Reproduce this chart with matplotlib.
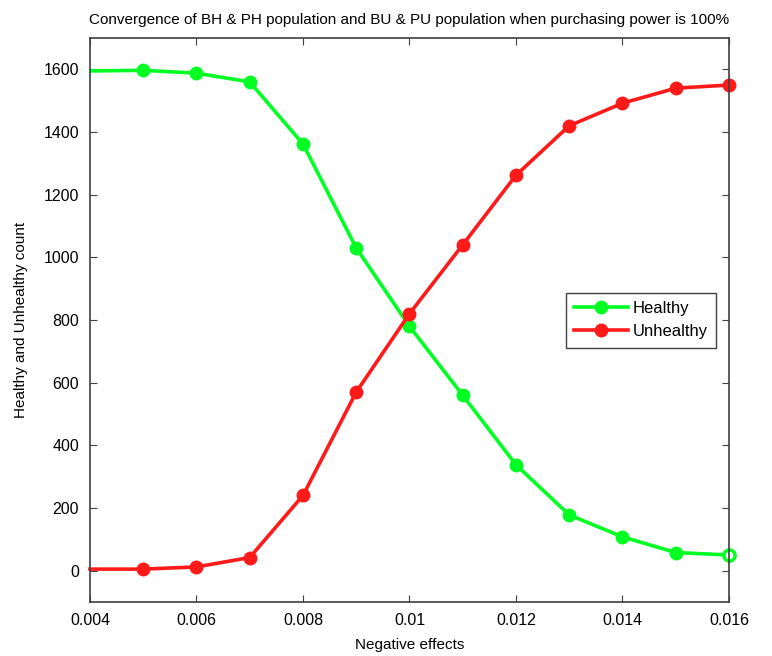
import numpy as np
import matplotlib.pyplot as plt

plt.rcParams['font.family'] = ['Liberation Sans', 'DejaVu Sans']

neg_effects = [0.004, 0.005, 0.006, 0.007, 0.008, 0.009, 0.010,
               0.011, 0.012, 0.013, 0.014, 0.015, 0.016]
healthy = [1595, 1597, 1588, 1560, 1362, 1030, 780, 560, 338, 178, 108, 58, 50]
unhealthy = [5, 5, 12, 42, 240, 570, 820, 1040, 1262, 1420, 1492, 1540, 1550]

fig = plt.figure(figsize=(7.72, 6.56), dpi=100)
ax = fig.add_axes([0.1166, 0.0823, 0.8276, 0.8597])

green = '#00ff22'
red = '#ff1a1a'

ax.plot(neg_effects, healthy, '-o', color=green, lw=2.6, ms=9,
        markevery=slice(1, 12), label='Healthy', clip_on=True)
ax.plot(neg_effects[-1:], healthy[-1:], 'o', color=green, mfc='white',
        mew=2.5, ms=8, clip_on=False)
ax.plot(neg_effects, unhealthy, '-o', color=red, lw=2.6, ms=9,
        markevery=slice(1, 13), label='Unhealthy', clip_on=False)

ax.set_xlim(0.004, 0.016)
ax.set_ylim(-100, 1700)
ax.set_xticks(np.arange(0.004, 0.0161, 0.002))
ax.set_xticklabels(['0.004', '0.006', '0.008', '0.01', '0.012', '0.014', '0.016'])
ax.set_yticks(np.arange(0, 1601, 200))

ax.tick_params(direction='in', top=True, right=True, length=5, labelsize=11.5,
               color='#404040', pad=8)
for s in ax.spines.values():
    s.set_color('#404040')
    s.set_linewidth(1.2)

ax.set_xlabel('Negative effects', fontsize=11, labelpad=7)
ax.set_ylabel('Healthy and Unhealthy count', fontsize=11, labelpad=11)
ax.set_title('Convergence of BH & PH population and BU & PU population when purchasing power is 100%',
             fontsize=11, pad=10)

leg = ax.legend(loc='center right', bbox_to_anchor=(0.993, 0.5), fontsize=12,
                fancybox=False, framealpha=1, edgecolor='#404040',
                handlelength=3.2, borderpad=0.5, labelspacing=0.5,
                handletextpad=0.3)
leg.get_frame().set_linewidth(1)

plt.savefig('out.png', dpi=100)
